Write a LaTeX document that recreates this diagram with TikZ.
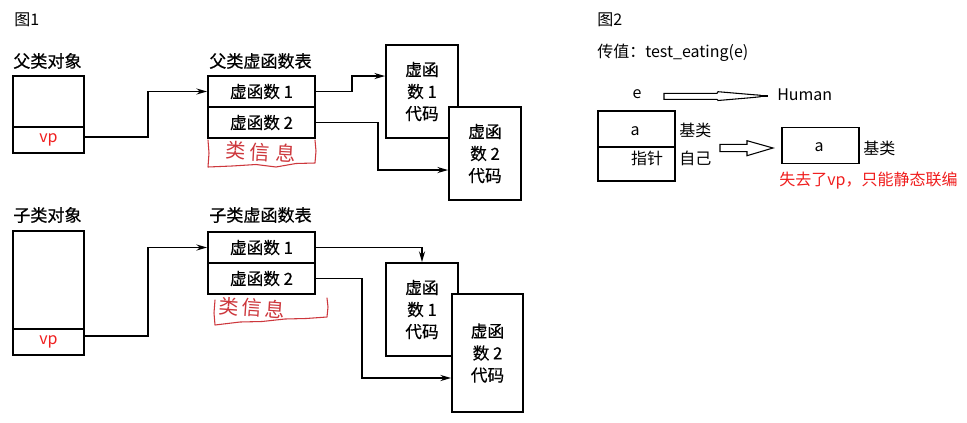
\documentclass[tikz,border=0pt]{standalone}
\usepackage{fontspec}
\setmainfont{Noto Sans CJK SC}
\newfontfamily\printfont[FakeBold=0.5]{Noto Sans CJK SC}
\usetikzlibrary{arrows.meta}
\definecolor{vpred}{RGB}{240,30,30}
\definecolor{inkred}{RGB}{205,55,60}
\begin{document}
\begin{tikzpicture}[x=0.75pt,y=-0.75pt,
  cell/.style={draw, line width=1.3pt, inner sep=0pt, fill=white, align=center,
               font=\printfont\fontsize{12.5}{16.5}\selectfont},
  conn/.style={line width=1.3pt, -{Stealth[length=8pt,width=4.5pt]}},
  heading/.style={anchor=west, inner sep=0pt, font=\printfont\fontsize{12.8}{14}\selectfont},
  caption/.style={anchor=west, inner sep=0pt, font=\fontsize{12}{14}\selectfont},
  thin/.style={draw, line width=0.8pt, inner sep=0pt},
  hollow/.style={draw, line width=0.8pt, fill=white},
  ink/.style={inkred, line width=0.8pt, line join=round, line cap=round},
  inktext/.style={inkred, inner sep=0pt, font=\fontsize{15}{16}\selectfont}
]
\fill[white] (0,0) rectangle (967,422);
\useasboundingbox (0,0) rectangle (967,422);

% ---------------- Figure 1 ----------------
\node[caption] (fig1) at (14,20) {图1};

% parent object and its vtable
\node[heading] (pobjlbl) at (13,61) {父类对象};
\node[cell, minimum width=53.25pt, minimum height=38.25pt] (pobj) at (48.5,101.5) {};
\node[cell, minimum width=53.25pt, minimum height=19.5pt, text=vpred,
      font=\fontsize{12}{13}\selectfont] (pvp) at (48.5,140) {vp};

\node[heading] (ptablbl) at (209,61) {父类虚函数表};
\node[cell, minimum width=80.25pt, minimum height=23.25pt] (prow1) at (261.5,91.5) {虚函数 1};
\node[cell, minimum width=80.25pt, minimum height=23.25pt] (prow2) at (261.5,122.5) {虚函数 2};

\node[cell, minimum width=54pt, minimum height=69.75pt] (pcode1) at (422,91.5) {虚函\\数 1\\代码};
\node[cell, minimum width=54pt, minimum height=69.75pt] (pcode2) at (485,153.5) {虚函\\数 2\\代码};

\draw[conn] ([yshift=2.25pt]pvp.east) -- ++(63,0) |- (prow1.west);
\draw[conn] (prow1.east) -- ++(36,0) |- ([yshift=11.6pt]pcode1.west);
\draw[conn] (prow2.east) -- ++(62,0) |- ([yshift=-12.4pt]pcode2.west);

% handwritten note under the parent vtable
\draw[ink] (208,140) -- (209,153) -- (208,167) -- (232,166) -- (256,164.5)
  -- (276,167) -- (296,163.5) -- (315,163) -- (316,151) -- (315,140);
\node[inktext, rotate=-3] (pnote) at (261,152) {类\hspace{3pt}信\hspace{4pt}息};

% child object and its vtable
\node[heading] (cobjlbl) at (13,215) {子类对象};
\node[cell, minimum width=53.25pt, minimum height=73.5pt] (cobj) at (48.5,280) {};
\node[cell, minimum width=53.25pt, minimum height=19.5pt, text=vpred,
      font=\fontsize{12}{13}\selectfont] (cvp) at (48.5,342) {vp};

\node[heading] (ctablbl) at (209,215) {子类虚函数表};
\node[cell, minimum width=80.25pt, minimum height=23.25pt] (crow1) at (261.5,247.5) {虚函数 1};
\node[cell, minimum width=80.25pt, minimum height=23.25pt] (crow2) at (261.5,278.5) {虚函数 2};

\node[cell, minimum width=54pt, minimum height=69.75pt] (ccode1) at (422,309.5) {虚函\\数 1\\代码};
\node[cell, minimum width=53.25pt, minimum height=88.5pt] (ccode2) at (487.5,353) {虚函\\数 2\\代码};

\draw[conn] ([yshift=4.5pt]cvp.east) -- ++(63,0) |- (crow1.west);
\draw[conn] (crow1.east) -| (ccode1.north);
\draw[conn] (crow2.east) -- ++(46,0) |- ([yshift=-18.75pt]ccode2.west);

% handwritten note under the child vtable
\draw[ink] (215,300) -- (214,313) -- (215,325) -- (240,322) -- (262,321.5)
  -- (285,319) -- (306,318.5) -- (327,317) -- (328,307) -- (327,298);
\node[inktext, rotate=-4] (cnote) at (252,308) {类\hspace{2pt}信\hspace{2pt}息};

% ---------------- Figure 2 ----------------
\node[caption] (fig2) at (597,20) {图2};
\node[caption] (call) at (597,53) {传值：test\_eating(e)};

\node[caption, anchor=center] (ve) at (637,94) {e};
\node[caption] (human) at (777,95) {Human};
% hollow arrow e -> Human
\draw[hollow] (664,93.3) -- (717,93.3) -- (718,91.7) -- (752,94.6) -- (760,95.2)
  -- (760,96.8) -- (752,97.6) -- (718,100.5) -- (717,99.3) -- (664,99.3) -- cycle;
\draw[line width=1.6pt] (760,96) -- (768,96);

\node[thin, minimum width=57.75pt, minimum height=27pt] (sub) at (636.5,129) {};
\node[thin, minimum width=57.75pt, minimum height=25.5pt] (ptr) at (636.5,164) {};
\node[caption, anchor=center] (suba) at (635,131) {a};
\node[caption, anchor=center] (ptrtxt) at (647,158) {指针};
\node[caption] (base1) at (679,130) {基类};
\node[caption] (self) at (679,158) {自己};

% hollow arrow: slicing to the base part
\draw[hollow] (720,144.3) -- (747,144.3) -- (747,140.7) -- (773,148)
  -- (747,155.7) -- (747,151.7) -- (720,151.7) -- cycle;

\node[thin, minimum width=57.75pt, minimum height=27pt] (sliced) at (820.5,145.7) {};
\node[caption, anchor=center] (sliceda) at (819,147) {a};
\node[caption] (base2) at (863,148) {基类};
\node[caption, text=vpred] (note) at (779,181) {失去了vp，只能静态联编};
\end{tikzpicture}
\end{document}
